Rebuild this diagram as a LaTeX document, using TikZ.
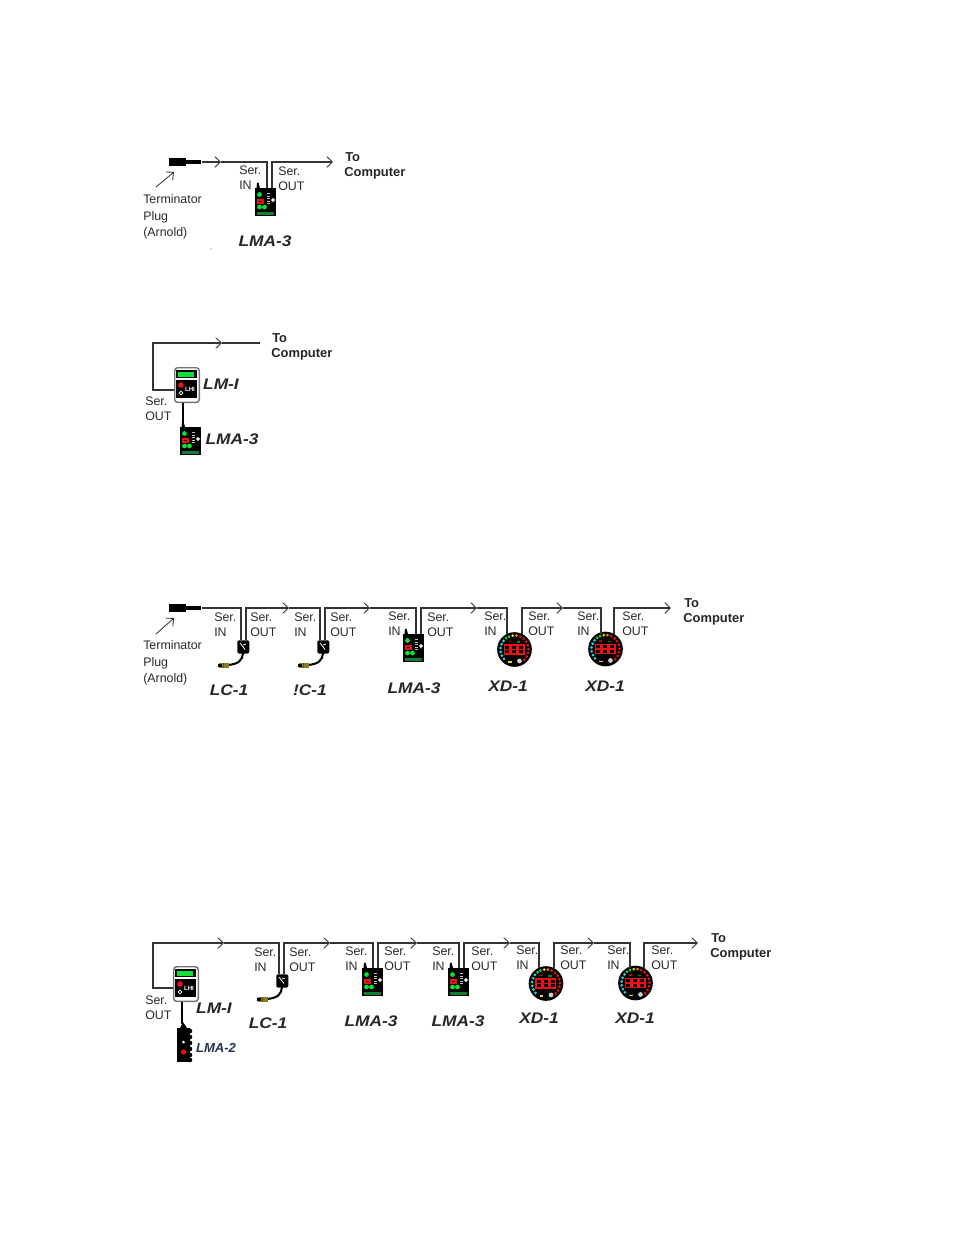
\documentclass[tikz,border=0pt]{standalone}
\usepackage{fontspec}
\setmainfont{Liberation Sans}
\usetikzlibrary{arrows.meta}
\definecolor{wirec}{HTML}{333333}
\definecolor{txtc}{HTML}{2A2A2A}
\definecolor{ledgreen}{HTML}{10E030}
\definecolor{ledred}{HTML}{F01010}
\definecolor{ledcyan}{HTML}{20D8E8}
\definecolor{ledyellow}{HTML}{E8D820}
\definecolor{barc}{HTML}{108030}
\definecolor{olive}{HTML}{8A7A20}
\definecolor{lmatwoc}{HTML}{223355}
\tikzset{
  wire/.style={draw=wirec,line width=0.85pt},
  tipped/.style={wire,-{Straight Barb[length=4.2pt,width=8pt,line width=0.65pt]}},
  txtn/.style={anchor=base west,inner sep=0,font=\fontsize{9.3}{11}\selectfont,text=txtc},
  boldn/.style={anchor=base west,inner sep=0,font=\fontsize{9.7}{11}\selectfont\bfseries,text=black!85},
  model/.style={inner sep=0,font=\fontsize{11.5}{13}\selectfont\itshape\bfseries,text=black!85},
  body/.style={inner sep=0,fill=black,draw=none},
}
% name, x, y (top left)
\newcommand\lmathree[3]{%
 \begin{scope}[shift={(#2,#3)}]
  \fill[black] (2,-5) -- (3.5,-5.5) -- (5,0) -- (1.5,0) -- cycle;
  \node[body,anchor=north west,minimum width=15.75pt,minimum height=21pt] (#1) at (0,0) {};
  \fill[barc] (2,24) rectangle (19,27);
  \fill[ledgreen] (4.5,6.5) circle (2.4) (4.5,19) circle (2.4) (9.5,19) circle (2.4);
  \fill[ledred] (2,11) rectangle (8.5,15.5);
  \fill[black] (3.5,12.5) rectangle (7,14);
  \foreach \yy in {5,7.5,10,12.5,15} \fill[white!75!black] (12,\yy) rectangle (15,\yy+1);
  \fill[white] (16,11.4) rectangle (20,12.6) (17.4,10) rectangle (18.6,14);
 \end{scope}}
% name, x, y (top left)
\newcommand\lmi[3]{%
 \begin{scope}[shift={(#2,#3)}]
  \node[inner sep=0,anchor=north west,minimum width=18.4pt,minimum height=26pt,rounded corners=2.2pt,fill=white,draw=black!55,line width=1.1pt] (#1) at (0,0) {};
  \fill[black] (2,3) rectangle (23,11);
  \fill[ledgreen] (4,5) rectangle (20,10);
  \fill[black] (2,13) rectangle (23,31);
  \fill[ledred] (7,18) circle (2.8);
  \draw[white,line width=0.6pt] (7,26) circle (1.9);
  \node[inner sep=0,text=white,font=\fontsize{4.6}{5}\selectfont\bfseries] (#1t) at (16,22) {LHI};
 \end{scope}}
% name, x, y (body top left)
\newcommand\lcone[3]{%
 \begin{scope}[shift={(#2,#3)}]
  \node[body,anchor=north west,minimum width=9pt,minimum height=10pt,rounded corners=1.5pt] (#1) at (0,0) {};
  \draw[white,line width=0.6pt] (3,3) -- (8,9.5) (6,5) -- (9,4);
  \draw[black,line width=1.5pt] (6,13) .. controls (5.5,20) and (2,24) .. (-9,25);
  \fill[olive] (-18,23) rectangle (-8,27.5);
  \fill[black] (-19,23.5) rectangle (-15,27);
  \fill[olive!70!black] (-14,23) rectangle (-13,27.5);
 \end{scope}}
% name, cx, cy
\newcommand\xdone[3]{%
 \begin{scope}[shift={(#2,#3)}]
  \node[circle,inner sep=0,minimum size=26pt,fill=black,draw=none] (#1) at (0,0) {};
  \foreach \a in {222,206,190,174,158,142} \fill[ledcyan] (-\a:14) circle (1.5);
  \foreach \a in {127,113} \fill[ledgreen] (-\a:14) circle (1.5);
  \fill[ledyellow] (-97:14) circle (1.5);
  \fill[orange] (-82:14) circle (1.5);
  \foreach \a in {66,50,34,18,2,-14,-30,-46} \fill[ledred] (-\a:14) circle (1.5);
  \fill[ledred!70!black] (-7,-9) rectangle (-3.5,-7.5);
  \fill[ledgreen!60!black] (2,-8.5) rectangle (5.5,-7);
  \fill[ledyellow] (-6.5,11.5) rectangle (-3,13);
  \fill[white!80!black] (5,11.5) circle (2.4);
  \foreach \dx in {-10,-3,4} {
    \draw[ledred,line width=0.8pt] (\dx,-4.5) rectangle (\dx+5.5,4.5) (\dx,0) -- (\dx+5.5,0);
  }
 \end{scope}}
% name, x, y (top left of LMA-2)
\newcommand\lmatwo[3]{%
 \begin{scope}[shift={(#2,#3)}]
  \fill[black] (3,0) -- (6,-6) -- (10,0) -- cycle;
  \node[body,anchor=north west,minimum width=9.4pt,minimum height=25.5pt] (#1) at (0,0) {};
  \foreach \yy in {3,9,15,21,27,32} \fill[black] (13,\yy) circle (2.3);
  \fill[white] (6.5,14) circle (1.5);
  \fill[ledred] (6.5,24) circle (2.6);
 \end{scope}}
% name, x, y (centre of first line), word
\newcommand\serlab[4]{%
 \node[txtn] (#1a) at (#2,#3+4) {Ser.};
 \node[txtn] (#1b) at (#2,#3+19) {#4};}
\newcommand\tocomp[3]{%
 \node[boldn] (#1a) at (#2+1,#3+9) {To};
 \node[boldn] (#1b) at (#2,#3+24) {Computer};}
\newcommand\termlab[3]{%
 \node[txtn] (#1a) at (#2,#3+8) {Terminator};
 \node[txtn] (#1b) at (#2,#3+25) {Plug};
 \node[txtn] (#1c) at (#2,#3+41) {(Arnold)};}
\newcommand\plug[3]{%
 \node[body,anchor=west,minimum width=12.75pt,minimum height=5.8pt] (#1b) at (#2,#3) {};
 \node[body,anchor=west,minimum width=11.25pt,minimum height=2.6pt] (#1) at (#2+17,#3) {};}
\newcommand\mdl[4]{\node[model] (#1) at (#2,#3) {\scalebox{1.13}[1]{#4}};}
\begin{document}
\begin{tikzpicture}[x=0.75pt,y=-0.75pt]
\useasboundingbox[fill=white] (0,0) rectangle (954,1235);

%% ---------- Diagram 1
\plug{pa}{169}{162}
\lmathree{da}{255}{188}
\coordinate (ca1) at (221,162);
\coordinate (aIn) at (267,188);
\coordinate (aOut) at (272,188);
\coordinate (aEnd) at (333,162);
\draw[tipped] (pa.east) -- (ca1);
\draw[wire] (ca1) -| (aIn);
\draw[tipped] (aOut) |- (aEnd);
\serlab{sa1}{239}{170}{IN}
\serlab{sa2}{278}{171}{OUT}
\tocomp{ta}{344}{152}
\termlab{ma}{143}{195}
\coordinate (aa1) at (156,187);
\coordinate (aa2) at (174,172);
\draw[tipped,line width=0.6pt] (aa1) -- (aa2);
\mdl{la}{265}{241}{LMA-3}
\fill[black!60] (211,249) circle (0.6);

%% ---------- Diagram 2
\lmi{db}{174}{367}
\lmathree{db2}{180}{427}
\coordinate (bL) at (153,343);
\coordinate (cb1) at (222,343);
\coordinate (bEnd) at (260,343);
\draw[tipped] (db.west |- 0,390) -| (bL) -- (cb1);
\draw[wire] (cb1) -- (bEnd);
\draw[draw=black,line width=1.5pt] (db.south -| 183,0) -- (183,427);
\serlab{sb}{145}{401}{OUT}
\tocomp{tb}{271}{333}
\mdl{lb1}{221}{384}{LM-I}
\mdl{lb2}{232}{439}{LMA-3}

%% ---------- Diagram 3
\plug{pc}{169}{608}
\lcone{dc1}{237}{640}
\lcone{dc2}{317}{640}
\lmathree{dc3}{403}{634}
\xdone{dc4}{514.5}{649.5}
\xdone{dc5}{605.5}{649}
\coordinate (c1In) at (241,640);
\coordinate (c1Out) at (246,640);
\coordinate (cc1) at (289,608);
\coordinate (c2In) at (320,640);
\coordinate (c2Out) at (325,640);
\coordinate (cc2) at (370,608);
\coordinate (c3In) at (416,634);
\coordinate (c3Out) at (421,634);
\coordinate (cc3) at (477,608);
\coordinate (c4In) at (507,634);
\coordinate (c4Out) at (522,634);
\coordinate (cc4) at (563,608);
\coordinate (c5In) at (601,634);
\coordinate (c5Out) at (614,634);
\coordinate (cEnd) at (671,608);
\draw[wire] (pc.east) -| (c1In);
\draw[tipped] (c1Out) |- (cc1);
\draw[wire] (cc1) -| (c2In);
\draw[tipped] (c2Out) |- (cc2);
\draw[wire] (cc2) -| (c3In);
\draw[tipped] (c3Out) |- (cc3);
\draw[wire] (cc3) -| (c4In);
\draw[tipped] (c4Out) |- (cc4);
\draw[wire] (cc4) -| (c5In);
\draw[tipped] (c5Out) |- (cEnd);
\serlab{sc1}{214}{617}{IN}
\serlab{sc2}{250}{617}{OUT}
\serlab{sc3}{294}{617}{IN}
\serlab{sc4}{330}{617}{OUT}
\serlab{sc5}{388}{616}{IN}
\serlab{sc6}{427}{617}{OUT}
\serlab{sc7}{484}{616}{IN}
\serlab{sc8}{528}{616}{OUT}
\serlab{sc9}{577}{616}{IN}
\serlab{sc10}{622}{616}{OUT}
\tocomp{tc}{683}{598}
\termlab{mc}{143}{641}
\coordinate (ac1) at (156,634);
\coordinate (ac2) at (174,618);
\draw[tipped,line width=0.6pt] (ac1) -- (ac2);
\mdl{lc1}{229}{690}{LC-1}
\mdl{lc2}{310}{690}{!C-1}
\mdl{lc3}{414}{688}{LMA-3}
\mdl{lc4}{508}{686}{XD-1}
\mdl{lc5}{605}{686}{XD-1}

%% ---------- Diagram 4
\lmi{dd0}{173}{966}
\lmatwo{dd6}{177}{1028}
\lcone{dd1}{276}{974}
\lmathree{dd2}{362}{968}
\lmathree{dd3}{448}{968}
\xdone{dd4}{546}{983.5}
\xdone{dd5}{635.5}{983}
\coordinate (dL) at (153,943);
\coordinate (cd0) at (224,943);
\coordinate (d1In) at (279,974);
\coordinate (d1Out) at (284,974);
\coordinate (cd1) at (330,943);
\coordinate (d2In) at (373,968);
\coordinate (d2Out) at (378,968);
\coordinate (cd2) at (417,943);
\coordinate (d3In) at (459,968);
\coordinate (d3Out) at (464,968);
\coordinate (cd3) at (510,943);
\coordinate (d4In) at (539,968);
\coordinate (d4Out) at (554,968);
\coordinate (cd4) at (594,943);
\coordinate (d5In) at (630,968);
\coordinate (d5Out) at (644,968);
\coordinate (dEnd) at (698,943);
\draw[tipped] (dd0.west |- 0,988) -| (dL) -- (cd0);
\draw[wire] (cd0) -| (d1In);
\draw[tipped] (d1Out) |- (cd1);
\draw[wire] (cd1) -| (d2In);
\draw[tipped] (d2Out) |- (cd2);
\draw[wire] (cd2) -| (d3In);
\draw[tipped] (d3Out) |- (cd3);
\draw[wire] (cd3) -| (d4In);
\draw[tipped] (d4Out) |- (cd4);
\draw[wire] (cd4) -| (d5In);
\draw[tipped] (d5Out) |- (dEnd);
\draw[draw=black,line width=1.5pt] (dd0.south -| 182,0) -- (182,1024);
\serlab{sd0}{145}{1000}{OUT}
\serlab{sd1}{254}{952}{IN}
\serlab{sd2}{289}{952}{OUT}
\serlab{sd3}{345}{951}{IN}
\serlab{sd4}{384}{951}{OUT}
\serlab{sd5}{432}{951}{IN}
\serlab{sd6}{471}{951}{OUT}
\serlab{sd7}{516}{950}{IN}
\serlab{sd8}{560}{950}{OUT}
\serlab{sd9}{607}{950}{IN}
\serlab{sd10}{651}{950}{OUT}
\tocomp{td}{710}{933}
\mdl{ld0}{214}{1008}{LM-I}
\mdl{ld1}{268}{1023}{LC-1}
\mdl{ld2}{371}{1021}{LMA-3}
\mdl{ld3}{458}{1021}{LMA-3}
\mdl{ld4}{539}{1018}{XD-1}
\mdl{ld5}{635}{1018}{XD-1}
\node[inner sep=0,font=\fontsize{9.8}{11}\selectfont\itshape\bfseries,text=lmatwoc] (ld6) at (216,1048) {LMA-2};
\end{tikzpicture}
\end{document}
